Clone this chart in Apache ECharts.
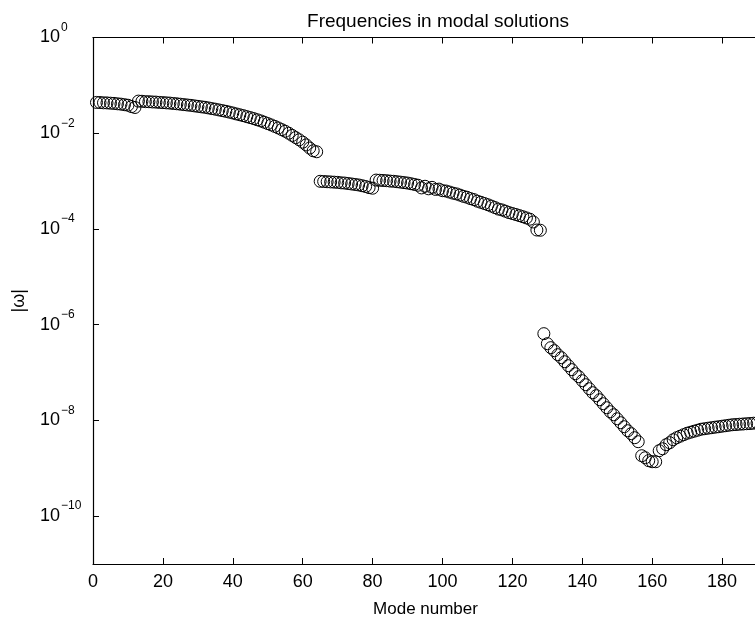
<!DOCTYPE html>
<html><head><meta charset="utf-8">
<script src="https://cdn.jsdelivr.net/npm/echarts@6/dist/echarts.min.js"></script>
<style>html,body{margin:0;padding:0;background:#fff}#c{width:755px;height:625px}</style>
</head><body><div id="c"></div>
<script>
const chartTitle = 'Frequencies in modal solutions';
const xAxisName = 'Mode number';
const yAxisName = '|ω|';
const xMin = 0, xMax = 200, xStep = 20;
const yMin = 1e-11, yMax = 1;
const yTickValues = [1e-10, 1e-8, 1e-6, 1e-4, 1e-2, 1];

// mode numbers start of each branch
const seg1Start = 1;
const seg1Values = [0.0440,0.0438,0.0432,0.0430,0.0424,0.0420,0.0412,0.0405,0.0395,0.0385,0.0360,0.0345];
const seg2Start = 13;
const seg2Values = [0.0469,0.0465,0.0457,0.0455,0.0450,0.0447,0.0440,0.0436,0.0431,0.0426,0.0418,0.0412,0.0404,0.0396,0.0389,0.0382,0.0373,0.0364,0.0356,0.0348,0.0338,0.0327,0.0318,0.0307,0.0297,0.0287,0.0276,0.0265,0.0253,0.0243,0.0233,0.0222,0.0212,0.0202,0.0191,0.0181,0.0170,0.0159,0.0149,0.0139,0.0129,0.0119,0.0110,0.0100,0.0090,0.0081,0.0073,0.0065,0.0057,0.0049,0.0043,0.0041];
const seg3Start = 65;
const seg3Values = [9.9e-4,9.8e-4,9.7e-4,9.6e-4,9.5e-4,9.4e-4,9.2e-4,9.1e-4,8.9e-4,8.7e-4,8.5e-4,8.3e-4,8.0e-4,7.7e-4,7.3e-4,7.1e-4];
const seg4Start = 81;
const seg4Values = [1.05e-3,1.04e-3,1.03e-3,1.02e-3,1.0e-3,9.9e-4,9.7e-4,9.5e-4,9.3e-4,9.1e-4,8.8e-4,8.5e-4,8.2e-4,7.2e-4,7.8e-4,6.9e-4,7.4e-4,6.7e-4,6.8e-4,6.3e-4,6.2e-4,5.9e-4,5.6e-4,5.4e-4,5.1e-4,4.8e-4,4.6e-4,4.3e-4,4.1e-4,3.8e-4,3.6e-4,3.4e-4,3.2e-4,3.0e-4,2.8e-4,2.6e-4,2.5e-4,2.35e-4,2.2e-4,2.1e-4,2.0e-4,1.9e-4,1.8e-4,1.7e-4,1.6e-4,1.4e-4,9.5e-5,9.4e-5];
const seg5Start = 129;
const seg5Values = [6.49e-7,4.01e-7,3.31e-7,2.86e-7,2.36e-7,2.04e-7,1.68e-7,1.39e-7,1.15e-7,9.46e-8,8.18e-8,6.75e-8,5.57e-8,4.59e-8,3.79e-8,3.28e-8,2.70e-8,2.23e-8,1.84e-8,1.52e-8,1.31e-8,1.08e-8,8.95e-9,7.38e-9,6.09e-9,5.27e-9,4.35e-9,3.59e-9];
const seg6Start = 157;
const seg6Values = [1.83e-9,1.66e-9,1.44e-9,1.37e-9,1.37e-9,2.33e-9,2.56e-9,3.11e-9,3.42e-9,3.95e-9,4.35e-9,4.68e-9,5.03e-9,5.40e-9,5.67e-9,5.95e-9,6.24e-9,6.55e-9,6.71e-9,6.88e-9,7.05e-9,7.22e-9,7.38e-9,7.57e-9,7.75e-9,7.94e-9,8.13e-9,8.20e-9,8.32e-9,8.41e-9,8.53e-9,8.61e-9,8.73e-9,8.83e-9];

const segments = [[seg1Start,seg1Values],[seg2Start,seg2Values],[seg3Start,seg3Values],[seg4Start,seg4Values],[seg5Start,seg5Values],[seg6Start,seg6Values]];
const points = [];
segments.forEach(([s, vals]) => vals.forEach((v, i) => points.push([s + i, v])));

const FONT = '"Liberation Sans", Arial, Helvetica, sans-serif';
function expLabel(v) {
  const e = Math.round(Math.log10(v));
  const es = e < 0 ? '\u2212' + (-e) : String(e);
  return '{b|10}{s|' + es + '}';
}
const chart = echarts.init(document.getElementById('c'), null, {renderer: 'canvas'});
chart.setOption({
  animation: false,
  backgroundColor: '#fff',
  title: {text: chartTitle, left: 433, top: 7, textAlign: 'center',
    textStyle: {fontFamily: FONT, fontSize: 19, fontWeight: 'normal', color: '#000'}},
  grid: {left: 93, top: 37.5, width: 699, height: 526.5, outerBoundsMode: 'none', containLabel: false},
  xAxis: [{
    type: 'value', min: xMin, max: xMax, interval: xStep, position: 'bottom',
    name: xAxisName, nameLocation: 'middle', nameGap: 37,
    nameTextStyle: {fontFamily: FONT, fontSize: 17, color: '#000', padding: [0, 34, 0, 0]},
    axisLine: {lineStyle: {color: '#000', width: 1.2}},
    axisTick: {inside: true, length: 6, lineStyle: {color: '#000'}},
    axisLabel: {fontFamily: FONT, fontSize: 18, color: '#000', margin: 9},
    splitLine: {show: false}
  }, {
    type: 'value', min: xMin, max: xMax, interval: xStep, position: 'top',
    axisLine: {lineStyle: {color: '#000', width: 1.2}},
    axisTick: {inside: true, length: 6, lineStyle: {color: '#000'}},
    axisLabel: {show: false}, splitLine: {show: false}
  }],
  yAxis: [{
    type: 'log', logBase: 10, min: yMin, max: yMax, position: 'left',
    name: yAxisName, nameLocation: 'middle', nameGap: 65, nameRotate: 90,
    nameTextStyle: {fontFamily: FONT, fontSize: 18, color: '#000'},
    axisLine: {lineStyle: {color: '#000', width: 1.2}},
    axisTick: {inside: true, length: 6, customValues: yTickValues, lineStyle: {color: '#000'}},
    minorTick: {show: false},
    axisLabel: {customValues: yTickValues, formatter: expLabel, margin: 53, align: 'left',
      rich: {
        b: {fontFamily: FONT, fontSize: 18, color: '#000', lineHeight: 32},
        s: {fontFamily: FONT, fontSize: 12, color: '#000', lineHeight: 12, padding: [0,0,0,1], verticalAlign: 'top'}
      }},
    splitLine: {show: false}
  }],
  series: [{
    type: 'scatter', xAxisIndex: 0, yAxisIndex: 0, data: points,
    symbol: 'circle', symbolSize: 12,
    itemStyle: {color: 'rgba(0,0,0,0)', borderColor: '#000', borderWidth: 1, opacity: 1}
  }]
});
</script></body></html>
